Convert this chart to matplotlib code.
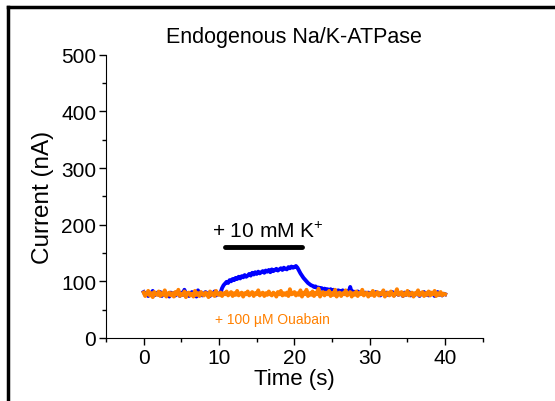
import numpy as np
import matplotlib
matplotlib.use('Agg')
import matplotlib.pyplot as plt
from matplotlib.lines import Line2D
from matplotlib.ticker import MultipleLocator

plt.rcParams['font.family'] = ['Liberation Sans', 'DejaVu Sans']
plt.rcParams['mathtext.fontset'] = 'custom'
plt.rcParams['mathtext.rm'] = 'Liberation Sans'

#=======================================================
# Data (one value every 0.2 s)
#=======================================================

time = np.linspace(0, 40, 201)   # s

current_k = [                     # nA, + 10 mM K+
    81, 76, 79, 74, 80, 77, 83, 75, 78, 80,
    76, 81, 74, 79, 82, 76, 78, 73, 80, 77,
    79, 75, 81, 77, 74, 80, 76, 85, 77, 79,
    74, 78, 81, 76, 79, 73, 84, 77, 80, 75,
    78, 81, 76, 79, 74, 80, 77, 82, 75, 79,
    77, 80, 88, 93, 96, 99, 97, 102, 100, 104,
    102, 106, 104, 108, 105, 109, 107, 111, 108, 110,
    113, 110, 115, 112, 116, 113, 117, 114, 116, 118,
    115, 119, 117, 120, 116, 121, 118, 120, 122, 119,
    121, 123, 120, 124, 122, 121, 125, 123, 126, 124,
    125, 127, 124, 119, 114, 110, 106, 103, 100, 97,
    95, 93, 92, 90, 91, 88, 89, 87, 88, 86,
    87, 85, 86, 84, 86, 83, 85, 84, 82, 84,
    83, 81, 84, 82, 80, 83, 81, 90, 80, 82,
    81, 79, 82, 80, 78, 81, 79, 80, 77, 80,
    79, 77, 80, 76, 81, 78, 79, 75, 80, 77,
    78, 80, 76, 79, 77, 81, 75, 78, 80, 76,
    79, 77, 74, 80, 76, 78, 81, 75, 79, 77,
    76, 80, 78, 74, 79, 77, 81, 76, 78, 75,
    80, 77, 79, 74, 78, 81, 76, 79, 75, 78,
    77,
]

current_ouabain = [               # nA, + 100 uM ouabain
    80, 74, 78, 83, 75, 79, 72, 81, 77, 76,
    82, 74, 79, 76, 84, 73, 78, 80, 75, 79,
    73, 81, 77, 85, 74, 78, 76, 82, 72, 79,
    80, 75, 78, 73, 83, 76, 79, 74, 81, 77,
    75, 80, 78, 72, 82, 76, 79, 74, 83, 77,
    76, 80, 74, 79, 77, 82, 75, 78, 81, 74,
    79, 76, 83, 75, 78, 80, 73, 79, 77, 82,
    75, 78, 81, 74, 79, 77, 84, 75, 78, 80,
    74, 79, 76, 82, 77, 75, 80, 78, 73, 81,
    77, 83, 75, 79, 76, 80, 74, 86, 77, 78,
    81, 75, 79, 76, 84, 73, 80, 77, 85, 74,
    79, 76, 82, 74, 80, 77, 87, 73, 78, 81,
    75, 80, 77, 83, 74, 79, 76, 85, 73, 78,
    80, 74, 79, 77, 84, 75, 78, 81, 73, 79,
    76, 82, 74, 79, 77, 85, 75, 78, 80, 73,
    79, 76, 83, 74, 78, 81, 75, 79, 77, 84,
    73, 78, 80, 75, 82, 77, 74, 79, 86, 76,
    78, 81, 74, 79, 76, 83, 75, 78, 80, 73,
    79, 77, 84, 75, 78, 81, 74, 79, 76, 82,
    75, 80, 77, 83, 74, 79, 76, 81, 75, 78,
    77,
]

k_start, k_end = 10.8, 21.0       # K+ application bar (s)

blue = '#0000ff'
orange = '#ff8000'

#=======================================================
# Plot
#=======================================================

fig = plt.figure(figsize=(5.55, 4.02), dpi=100)
ax = fig.add_axes([0.191, 0.157, 0.679, 0.704])

ax.plot(time, current_k, color=blue, lw=2.8)
ax.plot(time, current_ouabain, color=orange, lw=2.8)

ax.plot([k_start, k_end], [161, 161], color='black', lw=3.5, solid_capstyle='round')
ax.text(9.0, 190, '+ 10 mM K$^{+}$', fontsize=15, va='center', ha='left')
ax.text(9.4, 34, '+ 100 µM Ouabain', fontsize=10, color=orange, va='center', ha='left')

ax.set_xlim(-5, 45)
ax.set_ylim(0, 500)
ax.xaxis.set_major_locator(MultipleLocator(10))
ax.xaxis.set_minor_locator(MultipleLocator(5))
ax.yaxis.set_major_locator(MultipleLocator(100))
ax.yaxis.set_minor_locator(MultipleLocator(50))
ax.tick_params(which='major', direction='out', length=5, width=1, labelsize=15, pad=2)
ax.tick_params(which='minor', direction='out', length=3, width=1)

for side in ['top', 'right']:
    ax.spines[side].set_visible(False)

ax.set_xlabel('Time (s)', fontsize=16, labelpad=1)
ax.set_ylabel('Current (nA)', fontsize=17.5, labelpad=5)
ax.set_title('Endogenous Na/K-ATPase', fontsize=15.5, pad=9)

# outer frame (cropped on the right/bottom in the original)
fig.add_artist(Line2D([8/555, 1], [1 - 8/402, 1 - 8/402], color='black', lw=2.5))
fig.add_artist(Line2D([8/555, 8/555], [0, 1 - 8/402], color='black', lw=2.5))

plt.savefig('out.png', dpi=100)
